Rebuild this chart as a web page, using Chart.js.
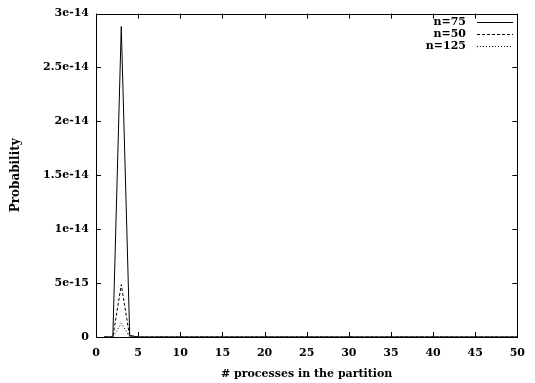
<!DOCTYPE html>
<html>
<head>
<meta charset="utf-8">
<script src="https://cdn.jsdelivr.net/npm/chart.js@4.4.0/dist/chart.umd.min.js"></script>
<style>
html, body { margin: 0; padding: 0; background: #fff; }
#wrap { width: 535px; height: 383px; }
</style>
</head>
<body>
<div id="wrap"><canvas id="chart"></canvas></div>
<script>
// # processes in the partition
const procs = [1, 2, 3, 4, 5, 6, 7, 8, 9, 10, 11, 12, 13, 14, 15, 16, 17, 18, 19, 20,
  21, 22, 23, 24, 25, 26, 27, 28, 29, 30, 31, 32, 33, 34, 35, 36, 37, 38, 39, 40,
  41, 42, 43, 44, 45, 46, 47, 48, 49, 50];

// probability per series (the tail is ~0)
const n75 = [0, 0, 2.88e-14, 1.5e-16, 0, 0, 0, 0, 0, 0, 0, 0, 0, 0, 0, 0, 0, 0, 0, 0,
  0, 0, 0, 0, 0, 0, 0, 0, 0, 0, 0, 0, 0, 0, 0, 0, 0, 0, 0, 0,
  0, 0, 0, 0, 0, 0, 0, 0, 0, 0];
const n50 = [0, 0, 4.86e-15, 2e-17, 0, 0, 0, 0, 0, 0, 0, 0, 0, 0, 0, 0, 0, 0, 0, 0,
  0, 0, 0, 0, 0, 0, 0, 0, 0, 0, 0, 0, 0, 0, 0, 0, 0, 0, 0, 0,
  0, 0, 0, 0, 0, 0, 0, 0, 0, 0];
const n125 = [0, 0, 1.26e-15, 5e-18, 0, 0, 0, 0, 0, 0, 0, 0, 0, 0, 0, 0, 0, 0, 0, 0,
  0, 0, 0, 0, 0, 0, 0, 0, 0, 0, 0, 0, 0, 0, 0, 0, 0, 0, 0, 0,
  0, 0, 0, 0, 0, 0, 0, 0, 0, 0];

const xTicks = [0, 5, 10, 15, 20, 25, 30, 35, 40, 45, 50];
const yTicks = [0, 5e-15, 1e-14, 1.5e-14, 2e-14, 2.5e-14, 3e-14];
const yTickLabels = ['0', '5e-15', '1e-14', '1.5e-14', '2e-14', '2.5e-14', '3e-14'];

const FONT = 'DejaVu Serif';
Chart.defaults.font.family = FONT;
Chart.defaults.font.size = 11;
Chart.defaults.font.weight = 'bold';
Chart.defaults.color = '#000';

function pts(ys) {
  return procs.map((x, i) => ({ x: x, y: ys[i] }));
}

// gnuplot style frame with inward ticks + legend at top right
const gnuFrame = {
  id: 'gnuFrame',
  afterDraw(chart) {
    const ctx = chart.ctx;
    const a = chart.chartArea;
    const sx = chart.scales.x, sy = chart.scales.y;
    ctx.save();
    ctx.strokeStyle = '#000';
    ctx.lineWidth = 1;
    ctx.setLineDash([]);
    ctx.strokeRect(Math.round(a.left) + 0.5, Math.round(a.top) + 0.5,
      Math.round(a.right - a.left), Math.round(a.bottom - a.top));
    ctx.beginPath();
    const tl = 5;
    xTicks.forEach(v => {
      const px = Math.round(sx.getPixelForValue(v)) + 0.5;
      ctx.moveTo(px, a.bottom); ctx.lineTo(px, a.bottom - tl);
      ctx.moveTo(px, a.top); ctx.lineTo(px, a.top + tl);
    });
    yTicks.forEach(v => {
      const py = Math.round(sy.getPixelForValue(v)) + 0.5;
      ctx.moveTo(a.left, py); ctx.lineTo(a.left + tl, py);
      ctx.moveTo(a.right, py); ctx.lineTo(a.right - tl, py);
    });
    ctx.stroke();

    // legend
    ctx.font = 'bold 11px ' + FONT;
    ctx.textAlign = 'right';
    ctx.textBaseline = 'middle';
    ctx.fillStyle = '#000';
    chart.data.datasets.forEach((ds, i) => {
      const y = 22 + i * 12;
      ctx.fillText(ds.label, 466, y);
      ctx.setLineDash(ds.borderDash || []);
      ctx.beginPath();
      ctx.moveTo(477, y + 0.5);
      ctx.lineTo(513, y + 0.5);
      ctx.stroke();
    });
    ctx.restore();
  }
};

new Chart(document.getElementById('chart'), {
  type: 'line',
  data: {
    datasets: [{
      label: 'n=75',
      data: pts(n75),
      borderColor: '#000',
      borderWidth: 1,
      pointRadius: 0,
      tension: 0
    }, {
      label: 'n=50',
      data: pts(n50),
      borderColor: '#000',
      borderWidth: 1,
      borderDash: [3, 2],
      pointRadius: 0,
      tension: 0
    }, {
      label: 'n=125',
      data: pts(n125),
      borderColor: '#000',
      borderWidth: 1,
      borderDash: [1, 2],
      pointRadius: 0,
      tension: 0
    }]
  },
  options: {
    responsive: true,
    maintainAspectRatio: false,
    animation: false,
    layout: { padding: { top: 10, right: 17, left: 0, bottom: 0 } },
    plugins: {
      legend: { display: false },
      tooltip: { enabled: false }
    },
    scales: {
      x: {
        type: 'linear',
        min: 0,
        max: 50,
        afterBuildTicks: s => { s.ticks = xTicks.map(v => ({ value: v })); },
        afterFit: s => { s.height = 46; },
        grid: { display: false, drawTicks: false },
        border: { display: false },
        ticks: { padding: 10, maxRotation: 0, autoSkip: false },
        title: {
          display: true,
          text: '# processes in the partition',
          font: { size: 11, weight: 'bold' },
          padding: { top: 0, bottom: 2 }
        }
      },
      y: {
        type: 'linear',
        min: 0,
        max: 3e-14,
        afterBuildTicks: s => { s.ticks = yTicks.map(v => ({ value: v })); },
        afterFit: s => { s.width = 96; },
        grid: { display: false, drawTicks: false },
        border: { display: false },
        ticks: {
          padding: 7,
          autoSkip: false,
          callback: (v, i) => yTickLabels[i]
        },
        title: {
          display: true,
          text: 'Probability',
          font: { size: 12, weight: 'bold' },
          padding: { top: 9, bottom: 0 }
        }
      }
    }
  },
  plugins: [gnuFrame]
});
</script>
</body>
</html>
